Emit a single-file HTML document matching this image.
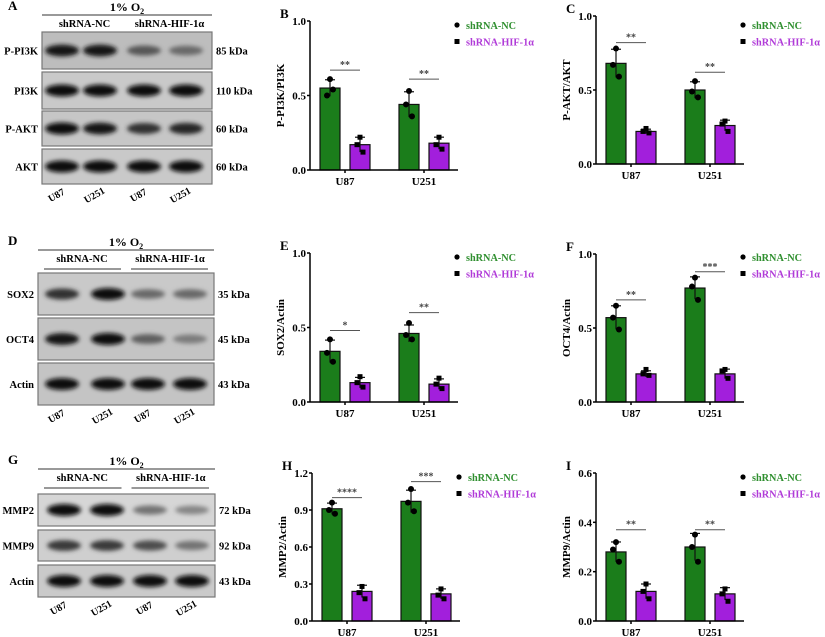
<!DOCTYPE html>
<html><head><meta charset="utf-8"><style>
body{margin:0;background:#fff}
svg{display:block;font-family:"Liberation Serif",serif;font-weight:bold}
</style></head><body>
<svg id="fig" width="825" height="637" viewBox="0 0 825 637">
<defs><filter id="blur" x="-20%" y="-50%" width="140%" height="200%"><feGaussianBlur stdDeviation="2.2"/></filter></defs>
</svg>
<script>
const NS="http://www.w3.org/2000/svg";
const fig=document.getElementById('fig');
function mk(tag,attrs,parent){const e=document.createElementNS(NS,tag);for(const k in attrs)e.setAttribute(k,attrs[k]);(parent||fig).appendChild(e);return e;}
function txt(x,y,s,attrs,parent){const t=mk('text',Object.assign({x:x,y:y},attrs||{}),parent);t.textContent=s;return t;}

// ---------- chart data ----------
const categories=["U87","U251"];
const seriesNames=["shRNA-NC","shRNA-HIF-1α"];
const bNC=[0.55,0.44]; const bHIF=[0.17,0.18];
const bNCpts=[[0.61,0.50,0.54],[0.53,0.44,0.36]]; const bHIFpts=[[0.22,0.17,0.12],[0.22,0.17,0.14]];
const bSig=[["**",0.67],["**",0.61]];
const cNC=[0.68,0.50]; const cHIF=[0.22,0.26];
const cNCpts=[[0.78,0.67,0.59],[0.56,0.49,0.45]]; const cHIFpts=[[0.24,0.22,0.21],[0.29,0.27,0.22]];
const cSig=[["**",0.82],["**",0.62]];
const eNC=[0.34,0.46]; const eHIF=[0.13,0.12];
const eNCpts=[[0.42,0.33,0.27],[0.53,0.45,0.42]]; const eHIFpts=[[0.17,0.13,0.10],[0.16,0.12,0.09]];
const eSig=[["*",0.48],["**",0.60]];
const fNC=[0.57,0.77]; const fHIF=[0.19,0.19];
const fNCpts=[[0.65,0.57,0.49],[0.84,0.78,0.69]]; const fHIFpts=[[0.22,0.19,0.18],[0.22,0.21,0.16]];
const fSig=[["**",0.69],["***",0.88]];
const hNC=[0.91,0.97]; const hHIF=[0.24,0.22];
const hNCpts=[[0.96,0.90,0.87],[1.07,0.96,0.89]]; const hHIFpts=[[0.28,0.23,0.18],[0.26,0.21,0.18]];
const hSig=[["****",1.00],["***",1.13]];
const iNC=[0.28,0.30]; const iHIF=[0.12,0.11];
const iNCpts=[[0.32,0.29,0.24],[0.35,0.30,0.24]]; const iHIFpts=[[0.15,0.12,0.09],[0.13,0.11,0.08]];
const iSig=[["**",0.37],["**",0.37]];
const ticks1=["0.0","0.5","1.0"];
const ticksH=["0.0","0.3","0.6","0.9","1.2"];
const ticksI=["0.0","0.2","0.4","0.6"];

const GREEN="#1b7d1b", PURPLE="#a21fdc";
function sd(a){const m=a.reduce((s,v)=>s+v,0)/a.length;return Math.sqrt(a.reduce((s,v)=>s+(v-m)*(v-m),0)/(a.length-1));}

function chart(name,letter,ax,top,bot,ymax,ticks,ylabel,nc,hif,ncp,hifp,sig,legY){
  const g=mk('g',{});
  
  
  const y=v=>bot-(v/ymax)*(bot-top);
  const xC=i=>ax+35+i*79;
  const lt=txt(ax-30,top-3,letter,{'font-size':13},g);
  
  
  ticks.forEach(t=>{const v=parseFloat(t);
    mk('line',{x1:ax-3,x2:ax,y1:y(v),y2:y(v),stroke:'#000','stroke-width':1.5},g);
    const tl=txt(ax-4,y(v)+4,t,{'font-size':11,'text-anchor':'end'},g);
    
    
  });
  const yl=txt(0,0,ylabel,{'font-size':11,'text-anchor':'middle',transform:`translate(${ax-26},${(top+bot)/2}) rotate(-90)`},g);
  
  
  categories.forEach((c,i)=>{
    [[nc,ncp,GREEN,-15,'circle'],[hif,hifp,PURPLE,15,'square']].forEach(([vals,pts,col,off,shape],s)=>{
      const cx=xC(i)+off, m=vals[i];
      const r=mk('rect',{x:cx-10,y:y(m),width:20,height:bot-y(m),fill:col,stroke:'#111','stroke-width':1.2},g);
      
      
      const e=sd(pts[i]);
      mk('line',{x1:cx,x2:cx,y1:y(m+e),y2:y(Math.max(0,m-e)),stroke:'#111','stroke-width':1.2},g);
      mk('line',{x1:cx-5,x2:cx+5,y1:y(m+e),y2:y(m+e),stroke:'#111','stroke-width':1.2},g);
      const offs=[0,-3,3];
      pts[i].forEach((p,k)=>{
        let pt;
        if(shape==='circle') pt=mk('circle',{cx:cx+offs[k],cy:y(p),r:3,fill:'#000'},g);
        else pt=mk('rect',{x:cx+offs[k]-2.5,y:y(p)-2.5,width:5,height:5,fill:'#000'},g);
        
        
      });
    });
    const sy=y(sig[i][1]);
    mk('line',{x1:xC(i)-15,x2:xC(i)+15,y1:sy,y2:sy,stroke:'#555','stroke-width':1},g);
    const st=txt(xC(i),sy-2,sig[i][0],{'font-size':10,'text-anchor':'middle',fill:'#444'},g);
    
    
    mk('line',{x1:xC(i),x2:xC(i),y1:bot,y2:bot+3,stroke:'#000','stroke-width':1.5},g);
    const xl=txt(xC(i),bot+15,c,{'font-size':11,'text-anchor':'middle'},g);
    
    
  });
  mk('line',{x1:ax,x2:ax,y1:top,y2:bot,stroke:'#000','stroke-width':1.5},g);
  mk('line',{x1:ax,x2:ax+148,y1:bot,y2:bot,stroke:'#000','stroke-width':1.5},g);
  const lx=ax+147;
  const le1=mk('g',{},g);
  
  
  mk('circle',{cx:lx,cy:legY,r:2.6,fill:'#000'},le1);
  txt(lx+9,legY+4,seriesNames[0],{'font-size':11,fill:'#2f8f2f',textLength:50,lengthAdjust:'spacingAndGlyphs'},le1);
  const le2=mk('g',{},g);
  
  
  mk('rect',{x:lx-2.5,y:legY+14,width:5,height:5,fill:'#000'},le2);
  txt(lx+9,legY+20.5,seriesNames[1],{'font-size':11,fill:'#b03ad8',textLength:68,lengthAdjust:'spacingAndGlyphs'},le2);
}
chart('chart-p-pi3k','B',310,21,170,1.0,ticks1,'P-PI3K/PI3K',bNC,bHIF,bNCpts,bHIFpts,bSig,25);
chart('chart-p-akt','C',596,16,164,1.0,ticks1,'P-AKT/AKT',cNC,cHIF,cNCpts,cHIFpts,cSig,25);
chart('chart-sox2','E',310,253,402,1.0,ticks1,'SOX2/Actin',eNC,eHIF,eNCpts,eHIFpts,eSig,257);
chart('chart-oct4','F',596,254,402,1.0,ticks1,'OCT4/Actin',fNC,fHIF,fNCpts,fHIFpts,fSig,257);
chart('chart-mmp2','H',312,473,621,1.2,ticksH,'MMP2/Actin',hNC,hHIF,hNCpts,hHIFpts,hSig,477);
chart('chart-mmp9','I',596,473,621,0.6,ticksI,'MMP9/Actin',iNC,iHIF,iNCpts,iHIFpts,iSig,477);

// ---------- western blots ----------
function blot(name,letter,x0,x1,ly,rows,lanes){
  const g=mk('g',{});
  
  
  const pl=txt(8,ly,letter,{'font-size':13},g);
  
  
  const o=txt((x0+x1)/2,ly+1,'1% O',{'font-size':12,'text-anchor':'middle'},g);
  const sub=mk('tspan',{'font-size':8,dy:3},o); sub.textContent='2';
  
  
  mk('line',{x1:x0,x2:x1,y1:ly+5,y2:ly+5,stroke:'#333','stroke-width':1},g);
  const mid=(x0+x1)/2;
  const g1=txt((x0+mid)/2,ly+17,'shRNA-NC',{'font-size':10.5,'text-anchor':'middle'},g);
  
  
  const g2=txt((mid+x1)/2,ly+17,'shRNA-HIF-1α',{'font-size':10.5,'text-anchor':'middle'},g);
  
  
  mk('line',{x1:x0+6,x2:mid-5,y1:ly+24,y2:ly+24,stroke:'#333'},g);
  mk('line',{x1:mid+5,x2:x1-6,y1:ly+24,y2:ly+24,stroke:'#333'},g);
  rows.forEach(r=>{
    const [lbl,y0,h,kda,ints,bg]=r;
    const box=mk('rect',{x:x0,y:y0,width:x1-x0,height:h,fill:bg,stroke:'#777','stroke-width':1.2},g);
    
    
    lanes.forEach((lx,i)=>{
      const v=Math.round(200-ints[i]*190);
      mk('ellipse',{cx:lx,cy:y0+h/2,rx:17,ry:3.5+ints[i]*2.5,fill:`rgb(${v},${v},${v})`,filter:'url(#blur)'},g);
    });
    const rl=txt(x0-4,y0+h/2+4,lbl,{'font-size':10.5,'text-anchor':'end'},g);
    
    
    const kl=txt(x1+4,y0+h/2+4,kda,{'font-size':10.5},g);
    
    
  });
  const lastRow=rows[rows.length-1];
  const ly2=lastRow[1]+lastRow[2]+14;
  ['U87','U251','U87','U251'].forEach((s,i)=>{
    const t=txt(0,0,s,{'font-size':10,'text-anchor':'middle',transform:`translate(${lanes[i]-4},${ly2}) rotate(-30)`},g);
    
    
  });
}
blot('blot-panel-a','A',42,212,10,[
  ['P-PI3K',32,37,'85 kDa',[0.95,0.95,0.6,0.5],'#bdbdbd'],
  ['PI3K',72,37,'110 kDa',[1,1,1,1],'#c9c9c9'],
  ['P-AKT',111,35,'60 kDa',[1,0.95,0.8,0.85],'#c6c6c6'],
  ['AKT',149,35,'60 kDa',[1,1,1,1],'#c9c9c9']
],[62,100,144,186]);
blot('blot-panel-d','D',38,214,245,[
  ['SOX2',273,42,'35 kDa',[0.8,1,0.5,0.5],'#c9c9c9'],
  ['OCT4',318,42,'45 kDa',[0.95,1,0.55,0.4],'#c4c4c4'],
  ['Actin',363,42,'43 kDa',[1,1,1,1],'#c4c4c4']
],[62,108,148,190]);
blot('blot-panel-g','G',38,215,464,[
  ['MMP2',494,32,'72 kDa',[1,1,0.45,0.35],'#d6d6d6'],
  ['MMP9',530,31,'92 kDa',[0.75,0.75,0.65,0.45],'#cfcfcf'],
  ['Actin',565,32,'43 kDa',[1,1,1,1],'#cacaca']
],[64,107,150,192]);
</script>
</body></html>
